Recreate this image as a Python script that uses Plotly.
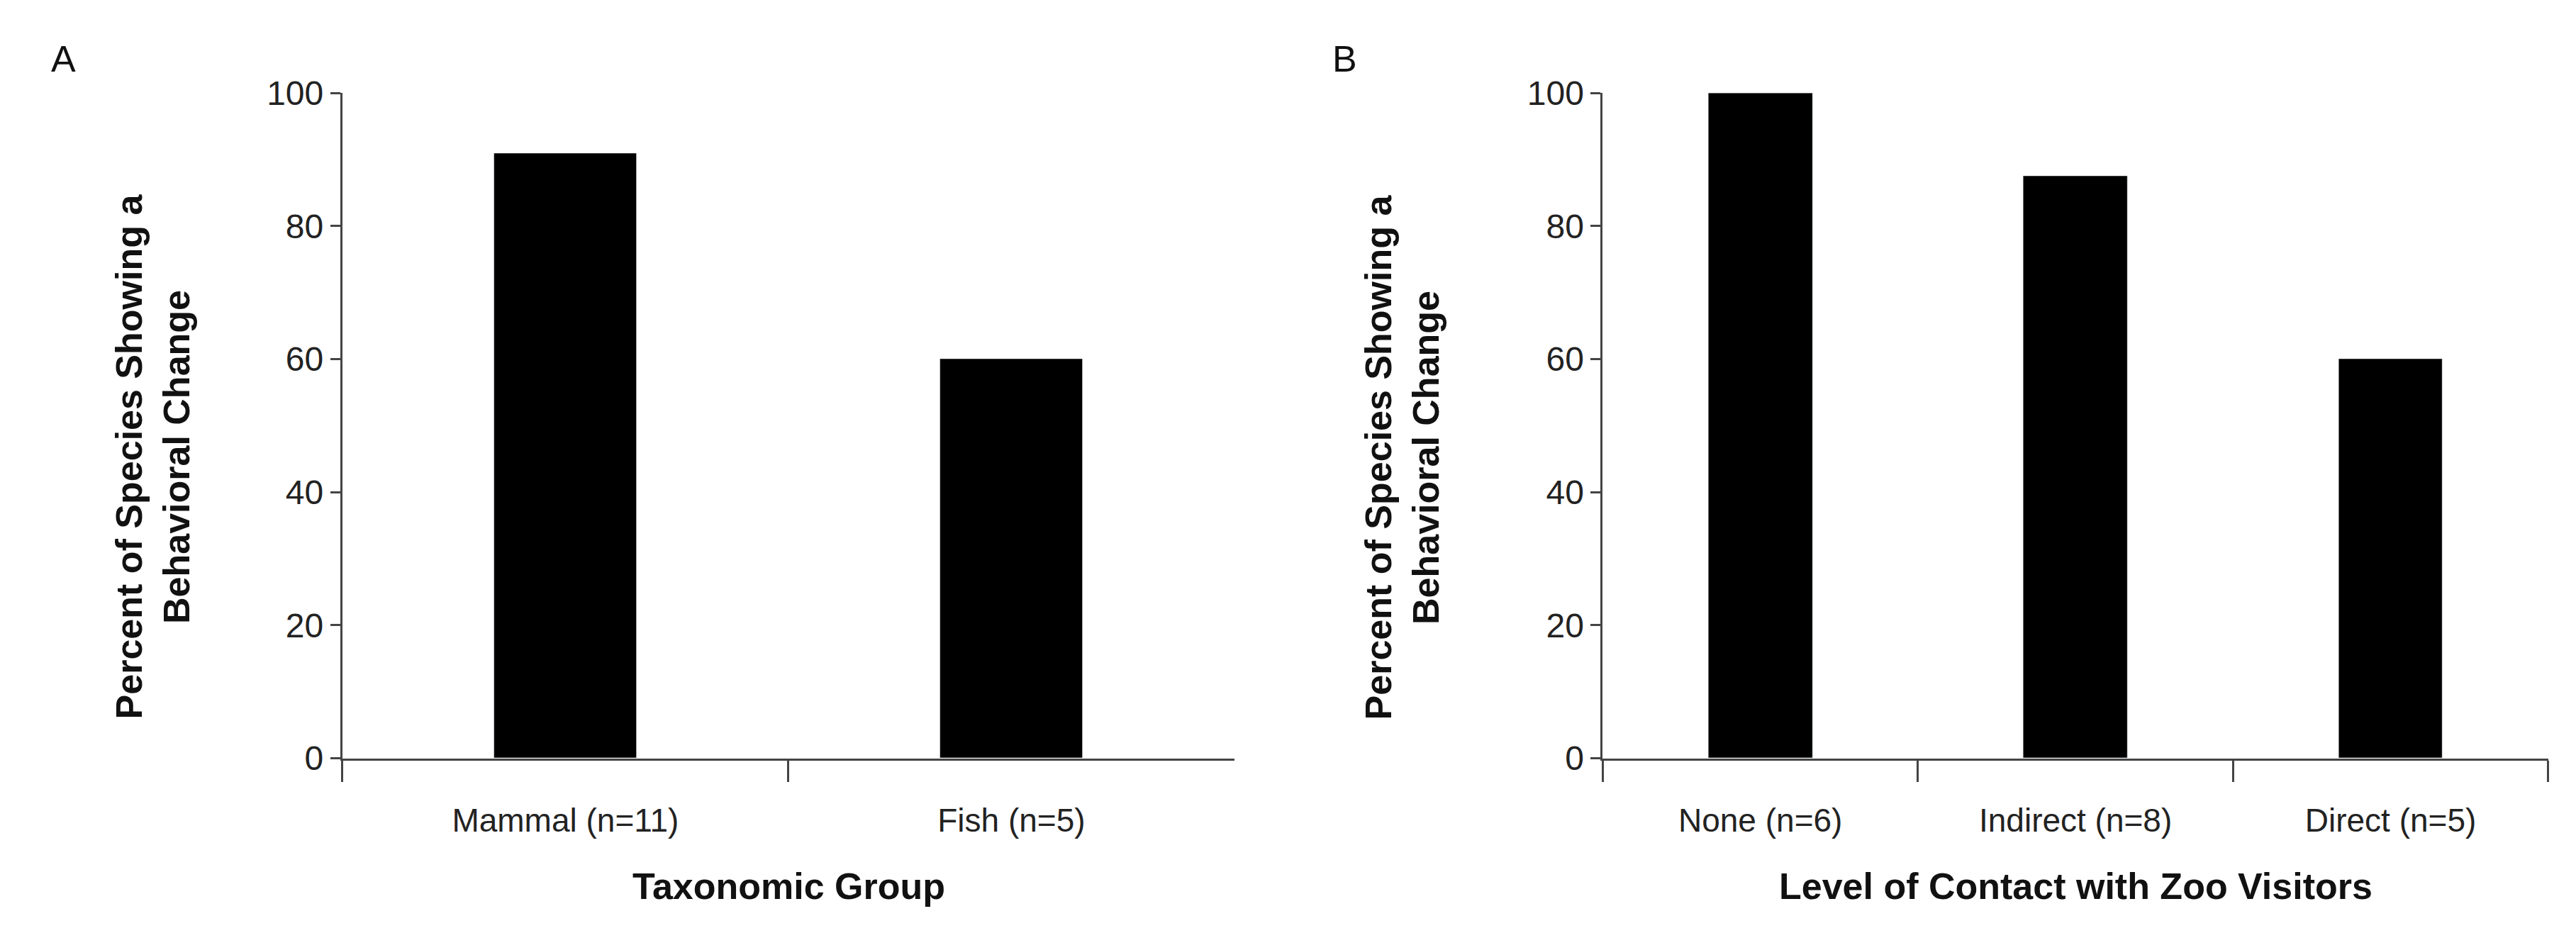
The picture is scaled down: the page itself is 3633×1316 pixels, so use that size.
import plotly.graph_objects as go

# panel A
taxa = ["Mammal (n=11)", "Fish (n=5)"]
taxa_pct = [90.9, 60.0]

# panel B
contact = ["None (n=6)", "Indirect (n=8)", "Direct (n=5)"]
contact_pct = [100.0, 87.5, 60.0]

y_ticks = [0, 20, 40, 60, 80, 100]

FONT = "Liberation Sans Narrow, Liberation Sans, Arial"
W, H = 3633, 1316

fig = go.Figure()
fig.add_trace(go.Bar(x=taxa, y=taxa_pct, marker_color="black", width=0.32,
                     xaxis="x", yaxis="y", showlegend=False))
fig.add_trace(go.Bar(x=contact, y=contact_pct, marker_color="black", width=0.33,
                     xaxis="x2", yaxis="y2", showlegend=False))

xcommon = dict(showline=True, linecolor="#444", linewidth=3, ticks="outside",
               tickson="boundaries", ticklen=30, tickwidth=3, tickcolor="#444",
               showgrid=False, ticklabelstandoff=45,
               tickfont=dict(family=FONT, size=46, color="#222"))
ycommon = dict(range=[0, 100], tickvals=y_ticks, showline=True, linecolor="#444",
               linewidth=3, ticks="outside", ticklen=14, tickwidth=3,
               tickcolor="#444", showgrid=False, zeroline=False,
               tickfont=dict(family=FONT, size=48, color="#222"))

fig.update_layout(
    width=W, height=H, margin=dict(l=0, r=0, t=0, b=0),
    plot_bgcolor="white", paper_bgcolor="white", bargap=0,
    xaxis=dict(domain=[0.1307, 0.477], anchor="y", **xcommon),
    yaxis=dict(domain=[0.18, 0.923], anchor="x", **ycommon),
    xaxis2=dict(domain=[0.62, 0.987], anchor="y2", **xcommon),
    yaxis2=dict(domain=[0.18, 0.923], anchor="x2", **ycommon),
)

ytitle = "<b>Percent of Species Showing a<br>Behavioral Change</b>"
annots = [
    dict(text="A", x=81 / W, y=1 - 51 / H, size=52, angle=0),
    dict(text="B", x=1888 / W, y=1 - 51 / H, size=52, angle=0),
    dict(text="<b>Taxonomic Group</b>", x=(475 + 1733) / 2 / W, y=1 - 1267 / H,
         size=52, angle=0),
    dict(text="<b>Level of Contact with Zoo Visitors</b>", x=(2252 + 3587) / 2 / W,
         y=1 - 1267 / H, size=52, angle=0),
    dict(text=ytitle, x=208 / W, y=1 - 636 / H, size=52, angle=-90),
    dict(text=ytitle, x=1970 / W, y=1 - 636 / H, size=52, angle=-90),
]
for a in annots:
    fig.add_annotation(text=a["text"], x=a["x"], y=a["y"], xref="paper", yref="paper",
                       showarrow=False, textangle=a["angle"],
                       font=dict(family="Liberation Sans, Arial" if a["angle"] else FONT,
                                 size=a["size"], color="#111"),
                       xanchor="center", yanchor="middle")

fig.write_html("out.html")
